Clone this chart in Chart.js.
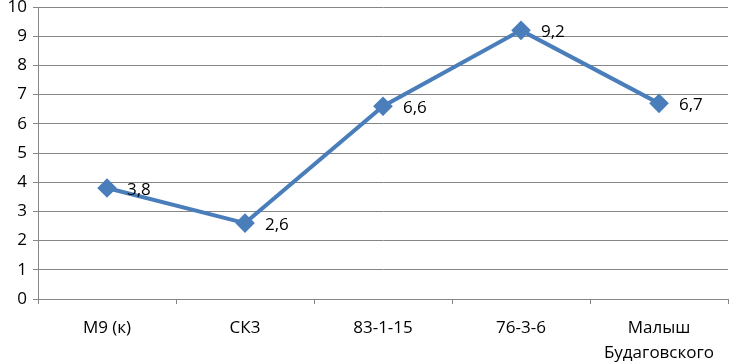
<!DOCTYPE html>
<html>
<head>
<meta charset="utf-8">
<script src="https://cdn.jsdelivr.net/npm/chart.js@4"></script>
<style>
  html, body { margin: 0; padding: 0; background: #fff; }
  #wrap { width: 729px; height: 362px; }
</style>
</head>
<body>
<div id="wrap"><canvas id="myChart" width="729" height="362"></canvas></div>
<script>
// chart data
const categories = ['М9 (к)', 'СК3', '83-1-15', '76-3-6', ['Малыш', 'Будаговского']];
const values = [3.8, 2.6, 6.6, 9.2, 6.7];
const yTicks = [0, 1, 2, 3, 4, 5, 6, 7, 8, 9, 10];

const lineColor = '#4A7EBB';
const gridColor = '#868686';
const fontFamily = "'Open Sans', 'DejaVu Sans', sans-serif";

// draws the value next to each point, using the points placed by the library
const valueLabels = {
    id: 'valueLabels',
    afterDatasetsDraw(chart) {
        const ctx = chart.ctx;
        const meta = chart.getDatasetMeta(0);
        ctx.save();
        ctx.font = '17px ' + fontFamily;
        ctx.fillStyle = '#000';
        ctx.textAlign = 'left';
        ctx.textBaseline = 'middle';
        meta.data.forEach((pt, i) => {
            const txt = String(values[i]).replace('.', ',');
            ctx.fillText(txt, pt.x + 20, pt.y + 2);
        });
        ctx.restore();
    }
};

const ctx = document.getElementById('myChart').getContext('2d');
const chart = new Chart(ctx, {
    type: 'line',
    data: {
        labels: categories,
        datasets: [{
            data: values,
            borderColor: lineColor,
            backgroundColor: lineColor,
            borderWidth: 4,
            pointStyle: 'rectRot',
            pointRadius: 7,
            pointHoverRadius: 7,
            fill: false,
            tension: 0
        }]
    },
    options: {
        responsive: false,
        animation: false,
        layout: { autoPadding: false, padding: { top: 7, right: 1, left: 0, bottom: 0 } },
        plugins: {
            legend: { display: false },
            tooltip: { enabled: false }
        },
        scales: {
            x: {
                offset: true,
                grid: {
                    offset: true,
                    drawOnChartArea: false,
                    drawTicks: true,
                    tickLength: 5,
                    color: gridColor
                },
                border: { color: gridColor, width: 1 },
                ticks: {
                    color: '#000',
                    font: { family: fontFamily, size: 17, lineHeight: 1.45 },
                    padding: 12,
                    maxRotation: 0,
                    autoSkip: false
                },
                afterFit(scale) {
                    scale.height = 63;
                    scale.paddingLeft = 0;
                    scale.paddingRight = 0;
                }
            },
            y: {
                min: 0,
                max: 10,
                afterBuildTicks(scale) {
                    scale.ticks = yTicks.map(v => ({ value: v }));
                },
                grid: {
                    color: gridColor,
                    lineWidth: 1,
                    tickLength: 5
                },
                border: { color: gridColor, width: 1 },
                ticks: {
                    color: '#000',
                    font: { family: fontFamily, size: 17 },
                    padding: 6
                },
                afterFit(scale) {
                    scale.width = 38;
                    scale.paddingTop = 0;
                    scale.paddingBottom = 0;
                }
            }
        }
    },
    plugins: [valueLabels]
});
</script>
</body>
</html>
